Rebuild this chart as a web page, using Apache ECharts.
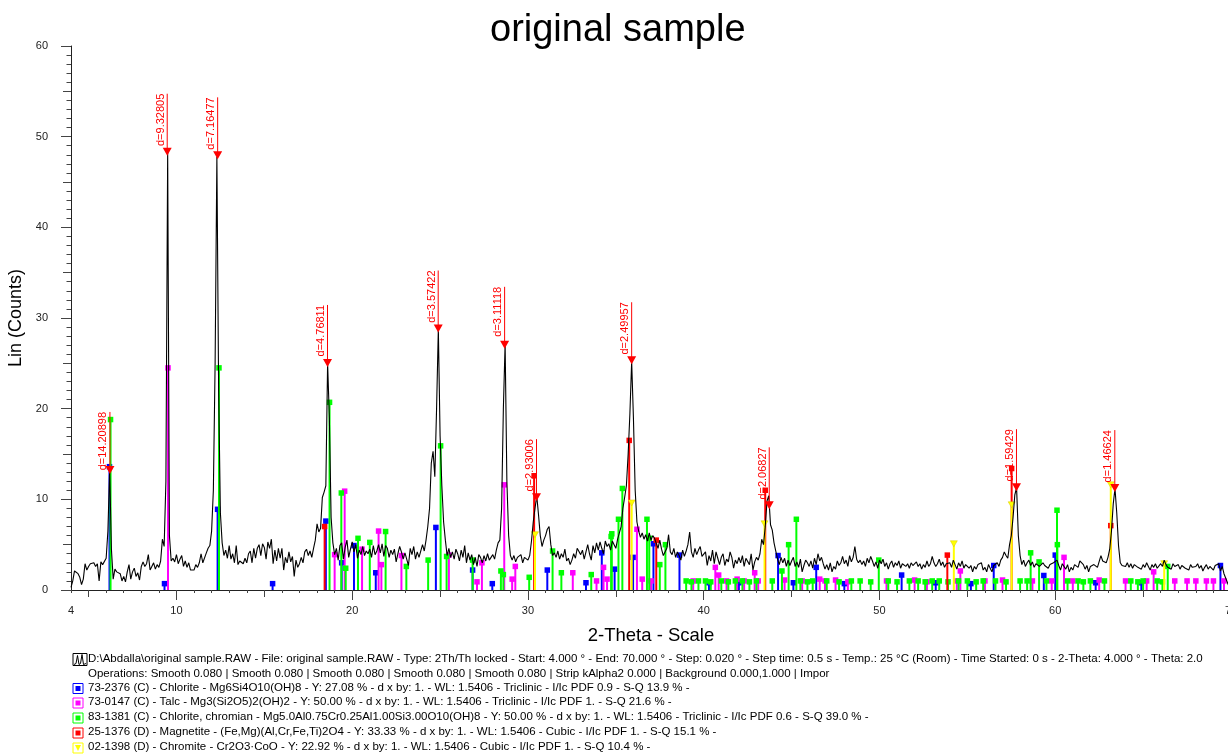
<!DOCTYPE html>
<html><head><meta charset="utf-8">
<script src="https://cdn.jsdelivr.net/npm/echarts@6/dist/echarts.min.js"></script>
<style>html,body{margin:0;padding:0;background:#fff}#c{width:1228px;height:756px}</style>
</head><body><div id="c"></div>
<script>
// ---- measured pattern: counts from 4.0 to 70.0 deg 2-theta, step 0.1 ----
const profileStart = 4.0;
const profileStep = 0.1;
const counts = [
0.3,1.0,2.1,2.3,1.8,1.4,0.6,1.2,2.9,2.2,
2.6,2.9,2.7,3.0,2.6,2.9,1.0,3.1,2.8,3.0,
3.5,6.5,13.3,4.5,1.2,2.3,2.0,2.2,1.8,1.0,
1.5,0.9,2.0,2.8,1.2,2.0,2.4,1.5,1.9,1.1,
2.6,3.1,2.6,2.9,3.9,2.2,2.6,3.0,2.3,2.8,
2.5,3.2,5.6,4.8,12.0,48.3,6.0,3.2,3.5,3.1,
3.9,2.9,3.4,3.8,2.6,3.2,2.5,3.0,2.2,2.4,
2.2,2.8,2.5,3.0,4.0,3.0,2.9,4.1,4.6,4.9,
6.5,11.0,25.0,47.8,22.0,8.5,5.2,3.8,4.4,3.5,
4.9,3.4,4.0,3.0,4.9,2.8,3.2,3.1,2.9,3.5,
3.0,4.0,4.3,3.0,4.6,3.5,4.6,5.0,3.8,5.1,
4.7,3.4,5.3,4.6,5.6,2.9,4.4,3.2,4.6,3.5,
4.6,2.2,3.6,3.0,4.2,3.1,3.7,1.5,3.3,2.5,
2.9,3.6,3.0,4.2,4.5,3.8,4.3,3.6,4.6,5.5,
7.3,6.4,6.8,10.2,10.8,11.5,25.0,19.0,8.0,5.2,
3.9,4.6,3.3,4.9,5.2,3.4,4.7,5.5,3.6,4.5,
5.3,4.2,5.0,3.5,4.4,3.9,4.8,3.8,4.3,4.0,
4.5,3.6,4.9,3.9,4.3,5.0,4.1,5.1,3.7,4.9,
4.6,3.6,4.4,3.9,4.5,3.1,4.0,4.8,4.2,3.4,
4.1,3.4,2.7,4.6,3.9,4.8,3.4,4.2,3.6,3.4,
5.0,4.3,5.5,7.0,9.0,14.0,15.3,12.5,20.0,28.8,
17.0,11.5,7.5,5.5,3.8,4.6,3.6,4.2,3.4,4.5,
4.0,3.2,4.4,3.6,4.9,3.0,4.1,3.3,3.9,2.8,
3.6,2.6,3.9,3.6,3.0,3.8,3.2,4.0,3.3,3.6,
3.9,3.4,4.4,5.2,5.5,9.0,20.0,27.2,12.0,6.0,
3.8,3.3,3.8,3.1,3.6,3.4,3.9,3.0,3.6,3.8,
3.3,3.8,5.4,7.5,9.0,10.4,8.3,6.0,4.8,5.5,
6.0,6.7,7.0,5.0,3.8,4.1,3.6,4.3,3.4,4.0,
3.6,4.5,3.2,3.5,2.8,3.3,4.0,3.5,4.6,4.8,
3.9,4.4,3.4,4.2,5.0,4.0,3.3,4.9,4.1,5.2,
4.4,5.3,4.6,4.0,5.4,4.8,5.1,4.4,5.4,5.0,
4.6,5.6,5.4,7.0,9.0,10.2,11.5,15.0,19.5,25.2,
19.0,11.0,7.5,6.5,5.8,6.3,5.6,6.1,5.4,6.3,
5.5,6.0,5.7,5.9,4.6,5.5,4.5,3.8,3.7,4.6,
6.1,4.2,3.9,4.6,3.6,4.2,3.8,3.3,4.4,3.7,
4.3,5.0,6.4,4.2,3.6,4.6,3.9,4.4,4.8,3.7,
3.7,4.2,2.7,3.8,3.2,4.4,2.9,4.2,3.5,2.8,
3.6,4.0,2.7,3.4,3.1,4.2,3.6,2.4,3.3,2.9,
3.6,3.0,3.8,2.6,3.5,3.4,2.8,4.0,2.2,3.1,
3.6,3.3,4.0,5.6,5.0,7.0,9.8,10.4,7.2,6.6,
5.2,4.3,3.4,2.8,3.6,3.0,3.5,2.6,3.3,2.7,
3.2,3.6,2.6,3.1,2.5,3.4,2.0,2.7,3.3,3.0,
2.6,3.2,2.4,3.5,2.8,4.0,3.2,3.6,2.9,2.3,
2.8,2.2,3.0,2.0,2.6,2.3,3.2,2.7,3.0,3.7,
2.9,3.3,2.6,3.8,3.1,3.6,4.8,3.4,3.0,3.3,
2.8,3.2,2.6,3.5,3.0,3.7,3.2,2.6,3.1,2.4,
3.3,2.9,3.4,2.6,3.0,2.3,2.9,3.2,2.5,3.0,
2.7,3.2,2.4,2.9,3.1,2.6,2.9,2.4,3.0,2.7,
2.5,3.1,2.6,2.9,2.3,2.8,2.5,3.2,2.6,2.9,
3.7,3.0,2.6,2.9,3.4,2.7,3.1,2.5,2.9,2.7,
3.0,2.5,3.3,2.8,2.3,3.0,2.6,3.2,2.4,2.8,
2.9,2.4,2.7,2.0,2.6,2.3,2.8,2.6,3.0,2.2,
2.5,2.0,2.8,2.4,2.0,2.7,2.5,3.0,2.6,3.3,
3.6,4.2,3.8,3.5,5.0,6.0,8.0,10.5,11.3,6.0,
3.8,2.8,3.3,2.6,3.0,3.3,2.7,3.1,2.5,2.9,
3.1,2.6,2.4,3.0,2.7,2.9,2.4,2.8,2.6,3.0,
3.2,3.3,2.7,2.2,2.9,2.6,2.3,2.8,2.0,2.5,
2.2,2.8,3.0,2.5,3.2,3.4,2.8,2.3,2.7,2.0,
2.6,2.4,2.8,3.0,2.5,2.7,3.8,3.2,3.4,3.0,
3.6,4.5,6.5,9.5,11.2,8.5,4.9,3.0,2.7,2.9,
2.6,3.0,2.5,2.9,2.4,2.8,3.0,2.5,2.7,2.3,
2.8,2.5,3.0,2.6,2.2,2.8,2.5,2.9,2.4,2.6,
2.9,2.6,3.3,2.8,2.5,2.7,2.3,2.9,2.6,2.4,
2.8,2.3,2.7,2.9,2.4,2.6,2.2,2.8,2.5,2.3,
2.6,2.9,2.4,2.7,2.1,2.5,2.8,2.3,2.6,2.4,
2.2,2.7,2.5,2.9,2.1,2.6,1.8,2.0,0.8,0.3,
0.2
];

// ---- peak search labels ----
const peakD = ['14.20898','9.32805','7.16477','4.76811','3.57422','3.11118','2.93006','2.49957','2.06827','1.59429','1.46624'];
const peakTheta = [6.215, 9.474, 12.344, 18.594, 24.892, 28.671, 30.486, 35.900, 43.728, 57.794, 63.389];
const peakCounts = [12.8, 47.9, 47.5, 24.6, 28.4, 26.6, 9.8, 24.9, 8.9, 10.9, 10.8];

// ---- reference patterns: [2-theta, height] ----
const chloriteSticks = [[6.19,13.6],[9.32,0.7],[12.34,8.9],[15.47,0.7],[18.5,7.6],[19.4,3.0],[20.1,4.9],[21.34,1.9],[24.76,6.9],[26.85,2.2],[27.97,0.7],[31.1,2.2],[33.3,0.8],[34.2,4.1],[34.93,2.3],[35.98,3.6],[37.14,5.1],[38.62,3.85],[40.3,0.8],[42.0,0.8],[44.23,3.8],[45.1,0.8],[46.4,2.5],[48.0,0.7],[51.26,1.65],[53.2,0.8],[55.2,0.7],[56.5,2.7],[59.35,1.6],[60.0,3.85],[62.3,0.8],[64.9,0.8],[69.4,2.7]];
const talcSticks = [[9.52,24.5],[19.0,3.9],[19.57,10.9],[20.56,4.5],[21.5,6.5],[21.66,2.8],[22.8,3.8],[25.5,3.85],[27.1,0.9],[27.38,3.0],[28.65,11.6],[29.1,1.2],[29.28,2.6],[32.55,1.9],[33.9,1.0],[34.3,2.5],[34.5,1.2],[36.2,6.7],[36.5,1.2],[37.0,1.0],[39.4,1.0],[40.66,2.5],[40.85,1.65],[41.3,1.0],[41.9,1.2],[42.3,1.0],[42.9,1.9],[43.1,1.0],[44.6,1.1],[45.6,1.0],[46.6,1.2],[46.9,1.0],[47.5,1.1],[48.2,0.9],[50.4,1.0],[52.0,1.1],[52.7,0.9],[54.4,1.0],[54.6,2.1],[56.0,1.0],[57.0,1.1],[58.7,1.0],[59.8,1.0],[60.5,3.6],[61.0,1.0],[62.5,1.1],[64.0,1.0],[65.2,1.0],[65.6,2.0],[66.8,1.0],[67.5,1.0],[68.0,1.0],[68.6,1.0],[69.0,1.0],[69.6,1.0]];
const chromianSticks = [[6.25,18.8],[12.42,24.5],[18.71,20.7],[19.38,10.7],[19.63,2.4],[20.33,5.7],[21.0,5.25],[21.9,6.45],[23.08,2.6],[24.32,3.3],[25.03,15.9],[25.37,3.7],[26.85,3.3],[28.46,2.1],[28.6,1.7],[30.07,1.4],[31.4,4.3],[31.9,1.9],[33.6,1.7],[34.73,5.9],[34.77,6.2],[35.15,7.8],[35.37,11.2],[36.77,7.8],[36.9,5.7],[37.5,2.8],[37.82,5.0],[39.0,1.0],[39.3,0.9],[39.7,1.0],[40.1,1.0],[40.4,0.9],[41.0,1.0],[41.4,0.9],[41.8,1.0],[42.2,1.0],[42.6,0.9],[43.0,1.0],[43.9,1.0],[44.45,2.1],[44.83,5.0],[45.27,7.8],[45.5,1.0],[45.9,0.9],[46.2,1.0],[47.0,1.0],[47.7,0.9],[48.4,1.0],[48.9,1.0],[49.5,0.9],[49.96,3.3],[50.5,1.0],[51.0,0.9],[51.7,1.0],[52.2,1.0],[52.6,0.9],[53.0,1.0],[53.4,1.0],[53.9,0.9],[54.5,1.0],[55.0,1.0],[55.5,0.9],[55.9,1.0],[56.6,1.0],[57.2,0.9],[58.0,1.0],[58.4,1.0],[58.6,4.1],[59.08,3.1],[59.5,1.0],[60.1,8.8],[60.12,5.0],[60.7,1.0],[61.3,1.0],[61.6,0.9],[62.0,1.0],[62.8,1.0],[64.3,1.0],[64.7,0.9],[65.0,1.0],[65.8,1.0],[66.1,0.9],[66.4,2.6]];
const magnetiteSticks = [[18.43,7.0],[30.35,12.6],[35.76,16.5],[37.3,5.5],[43.5,11.0],[53.86,3.85],[57.52,13.4],[63.16,7.1]];
const chromiteSticks = [[30.4,6.1],[35.9,9.6],[43.46,7.3],[54.23,5.1],[57.52,9.4],[63.16,11.6],[66.2,2.9]];

// ---- axis ticks / labels ----
const xLabelValues = [4,10,20,30,40,50,60,70];
const xMidTicks = [5,15,25,35,45,55,65];
const xMajorTicks = [10,20,30,40,50,60,70];
const yLabelValues = [0,10,20,30,40,50,60];
const yMidTicks = [5,15,25,35,45,55];
const yMajorTicks = [0,10,20,30,40,50,60];

// ---- legend rows ----
const legendTexts = [
 'D:\\Abdalla\\original sample.RAW - File: original sample.RAW - Type: 2Th/Th locked - Start: 4.000 ° - End: 70.000 ° - Step: 0.020 ° - Step time: 0.5 s - Temp.: 25 °C (Room) - Time Started: 0 s - 2-Theta: 4.000 ° - Theta: 2.0',
 'Operations: Smooth 0.080 | Smooth 0.080 | Smooth 0.080 | Smooth 0.080 | Smooth 0.080 | Strip kAlpha2 0.000 | Background 0.000,1.000 | Impor',
 '73-2376 (C) - Chlorite - Mg6Si4O10(OH)8 - Y: 27.08 % - d x by: 1. - WL: 1.5406 - Triclinic - I/Ic PDF 0.9 - S-Q 13.9 % -',
 '73-0147 (C) - Talc - Mg3(Si2O5)2(OH)2 - Y: 50.00 % - d x by: 1. - WL: 1.5406 - Triclinic - I/Ic PDF 1. - S-Q 21.6 % -',
 '83-1381 (C) - Chlorite, chromian - Mg5.0Al0.75Cr0.25Al1.00Si3.00O10(OH)8 - Y: 50.00 % - d x by: 1. - WL: 1.5406 - Triclinic - I/Ic PDF 0.6 - S-Q 39.0 % -',
 '25-1376 (D) - Magnetite - (Fe,Mg)(Al,Cr,Fe,Ti)2O4 - Y: 33.33 % - d x by: 1. - WL: 1.5406 - Cubic - I/Ic PDF 1. - S-Q 15.1 % -',
 '02-1398 (D) - Chromite - Cr2O3·CoO - Y: 22.92 % - d x by: 1. - WL: 1.5406 - Cubic - I/Ic PDF 1. - S-Q 10.4 % -'
];
const legendColors = [null, null, '#0000ff', '#ff00ff', '#00ff00', '#ff0000', '#ffff00'];
const legendRowY = [659.5, 675, 688.5, 703, 718, 733, 748];

const FONT = '"Liberation Sans", Arial, sans-serif';

const profileData = counts.map((v, i) => [Math.round((profileStart + i * profileStep) * 10) / 10, v]);

function stickSeries(name, data, color, marker) {
  return {
    type: 'custom', name: name, data: data, z: 2, clip: true,
    xAxisIndex: 0, yAxisIndex: 0,
    encode: { x: 0, y: 1 },
    renderItem: function (params, api) {
      const t = api.value(0), h = api.value(1);
      const b = api.coord([t, 0]);
      const p = api.coord([t, h]);
      const ch = [{ type: 'line', shape: { x1: b[0], y1: b[1], x2: p[0], y2: p[1] }, style: { stroke: color, lineWidth: 2 } }];
      if (marker === 'tri') {
        ch.push({ type: 'polygon', shape: { points: [[p[0] - 3.5, p[1] - 3], [p[0] + 3.5, p[1] - 3], [p[0], p[1] + 3]] }, style: { fill: color, stroke: '#d8c800', lineWidth: 0.5 } });
      } else {
        ch.push({ type: 'rect', shape: { x: p[0] - 2.75, y: p[1] - 2.75, width: 5.5, height: 5.5 }, style: { fill: color } });
      }
      return { type: 'group', children: ch };
    }
  };
}

const peakData = peakTheta.map((t, i) => [t, peakCounts[i]]);

const peakSeries = {
  type: 'custom', name: 'peaks', data: peakData, z: 6, clip: false,
  xAxisIndex: 0, yAxisIndex: 0,
  encode: { x: 0, y: 1 },
  renderItem: function (params, api) {
    const p = api.coord([api.value(0), api.value(1)]);
    const top = p[1] - 62;
    return {
      type: 'group', children: [
        { type: 'line', shape: { x1: p[0], y1: top, x2: p[0], y2: p[1] - 4 }, style: { stroke: '#ff0000', lineWidth: 1 } },
        { type: 'polygon', shape: { points: [[p[0] - 4.5, p[1] - 8], [p[0] + 4.5, p[1] - 8], [p[0], p[1]]] }, style: { fill: '#ff0000' } },
        { type: 'text', x: p[0] - 1, y: top, rotation: Math.PI / 2,
          style: { text: 'd=' + peakD[params.dataIndex], fill: '#ff0000', font: '11px ' + FONT, align: 'right', verticalAlign: 'bottom' } }
      ]
    };
  }
};

// legend graphics
const graphics = [];
legendTexts.forEach((txt, i) => {
  const y = legendRowY[i];
  graphics.push({ type: 'text', left: 88, top: y - 7, style: { text: txt, fill: '#000', font: '11.5px ' + FONT } });
  const c = legendColors[i];
  if (c) {
    graphics.push({ type: 'rect', shape: { x: 73, y: y - 5, width: 10, height: 10 }, style: { fill: '#fff', stroke: c, lineWidth: 1 } });
    if (i === 6) {
      graphics.push({ type: 'polygon', shape: { points: [[75, y - 3], [81, y - 3], [78, y + 3]] }, style: { fill: c } });
    } else {
      graphics.push({ type: 'rect', shape: { x: 75.5, y: y - 2.5, width: 5, height: 5 }, style: { fill: c } });
    }
  }
});
// pattern icon for first row
graphics.push({ type: 'rect', shape: { x: 73, y: legendRowY[0] - 6, width: 14, height: 12 }, style: { fill: 'none', stroke: '#000', lineWidth: 1 } });
graphics.push({ type: 'polyline', shape: { points: [[74, legendRowY[0] + 5], [76, legendRowY[0] + 4], [77.5, legendRowY[0] - 4], [79, legendRowY[0] + 5], [80.5, legendRowY[0] + 4], [82, legendRowY[0] - 5], [83.5, legendRowY[0] + 5], [86, legendRowY[0] + 4]] }, style: { fill: 'none', stroke: '#000', lineWidth: 1 } });

function xAxisDef(extra) {
  return Object.assign({
    type: 'value', min: 4, max: 70, position: 'bottom', gridIndex: 0,
    splitLine: { show: false },
    axisLine: { show: false },
    axisLabel: { show: false },
    axisTick: { show: false }
  }, extra);
}
function yAxisDef(extra) {
  return Object.assign({
    type: 'value', min: 0, max: 60, position: 'left', gridIndex: 0,
    splitLine: { show: false },
    axisLine: { show: false },
    axisLabel: { show: false },
    axisTick: { show: false }
  }, extra);
}

const option = {
  animation: false,
  backgroundColor: '#fff',
  title: { text: 'original sample', left: 485, top: 7, textStyle: { fontFamily: FONT, fontSize: 38, fontWeight: 'normal', color: '#000' } },
  grid: { left: 71, right: -3, top: 46, bottom: 166, containLabel: false, outerBoundsMode: 'none' },
  xAxis: [
    xAxisDef({
      interval: 1,
      axisLine: { show: true, lineStyle: { color: '#222', width: 1 } },
      axisTick: { show: true, length: 3, lineStyle: { color: '#444' } },
      axisLabel: { show: true, customValues: xLabelValues, margin: 15, fontSize: 11, color: '#222', fontFamily: FONT },
      name: '2-Theta - Scale', nameLocation: 'middle', nameGap: 36,
      nameTextStyle: { fontFamily: FONT, fontSize: 18.5, color: '#000' }
    }),
    xAxisDef({ axisTick: { show: true, length: 7, customValues: xMidTicks, lineStyle: { color: '#444' } } }),
    xAxisDef({ axisTick: { show: true, length: 10, customValues: xMajorTicks, lineStyle: { color: '#444' } } })
  ],
  yAxis: [
    yAxisDef({
      interval: 1,
      axisLine: { show: true, lineStyle: { color: '#222', width: 1 } },
      axisTick: { show: true, length: 4.5, lineStyle: { color: '#444' } },
      axisLabel: { show: true, customValues: yLabelValues, margin: 23, fontSize: 11, color: '#222', fontFamily: FONT },
      name: 'Lin (Counts)', nameLocation: 'middle', nameGap: 43, nameRotate: 90,
      nameTextStyle: { fontFamily: FONT, fontSize: 18, color: '#000' }
    }),
    yAxisDef({ axisTick: { show: true, length: 8, customValues: yMidTicks, lineStyle: { color: '#444' } } }),
    yAxisDef({ axisTick: { show: true, length: 10, customValues: yMajorTicks, lineStyle: { color: '#444' } } })
  ],
  series: [
    stickSeries('Chlorite', chloriteSticks, '#0000ff', 'sq'),
    stickSeries('Talc', talcSticks, '#ff00ff', 'sq'),
    stickSeries('Chlorite, chromian', chromianSticks, '#00ff00', 'sq'),
    stickSeries('Magnetite', magnetiteSticks, '#ff0000', 'sq'),
    stickSeries('Chromite', chromiteSticks, '#ffff00', 'tri'),
    {
      type: 'line', name: 'original sample', data: profileData, xAxisIndex: 0, yAxisIndex: 0,
      showSymbol: false, symbol: 'none', z: 4, clip: true,
      lineStyle: { color: '#000', width: 1.1 }
    },
    peakSeries
  ],
  graphic: graphics
};

const chart = echarts.init(document.getElementById('c'), null, { renderer: 'canvas' });
chart.setOption(option);
</script>
</body></html>
